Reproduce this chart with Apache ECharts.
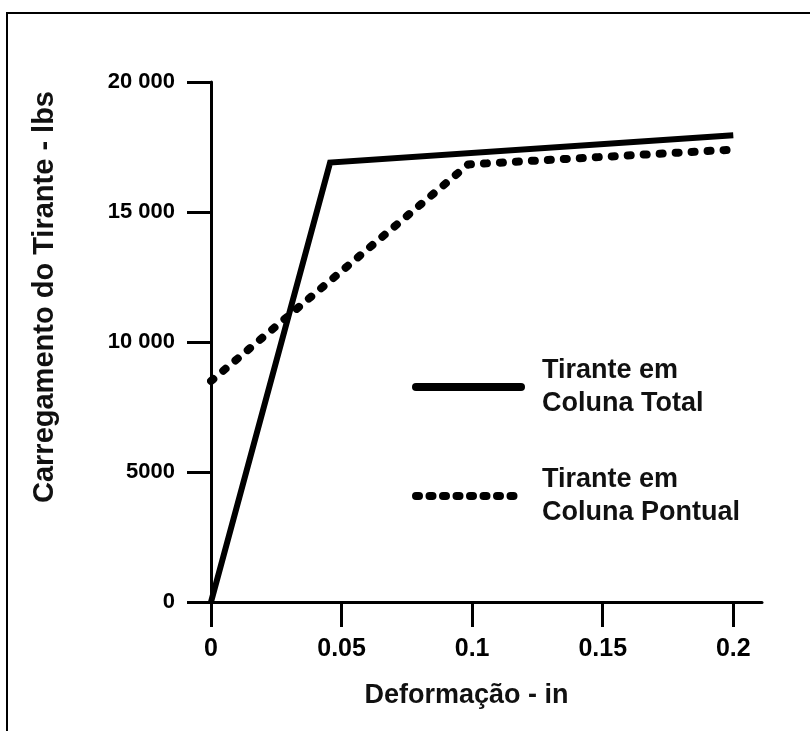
<!DOCTYPE html>
<html><head><meta charset="utf-8">
<script src="https://cdn.jsdelivr.net/npm/echarts@6/dist/echarts.min.js"></script>
<style>html,body{margin:0;padding:0;background:#fff}#c{width:810px;height:731px}</style>
</head><body><div id="c"></div>
<script>
// ---- data ----
const xTicks = [0, 0.05, 0.1, 0.15, 0.2];
const xTickLabels = ['0', '0.05', '0.1', '0.15', '0.2'];
const yTicks = [0, 5000, 10000, 15000, 20000];
const yTickLabels = ['0', '5000', '10 000', '15 000', '20 000'];
const seriesNames = ['Tirante em\nColuna Total', 'Tirante em\nColuna Pontual'];
const totalX = [0, 0.0456, 0.2];
const totalY = [0, 16900, 17950];
const pontualX = [0, 0.0985, 0.2];
const pontualY = [8500, 16830, 17400];
const xTitle = 'Deformação - in';
const yTitle = 'Carregamento do Tirante - lbs';

const FONT = "'Liberation Sans', Arial, sans-serif";
const INK = '#111';
const pairs = (xs, ys) => xs.map((x, i) => [x, ys[i]]);

const chart = echarts.init(document.getElementById('c'), null, {renderer: 'canvas'});
chart.setOption({
  animation: false,
  backgroundColor: '#fff',
  color: ['#000', '#000'],
  graphic: [{
    type: 'rect', silent: true, z: 0,
    shape: {x: 7, y: 13, width: 1000, height: 1000},
    style: {fill: 'none', stroke: '#000', lineWidth: 2}
  }],
  grid: {left: 211, top: 82, right: 48, bottom: 129, outerBoundsMode: 'none', containLabel: false},
  xAxis: {
    type: 'value', min: 0, max: 0.211,
    name: xTitle, nameLocation: 'middle', nameGap: 80,
    nameTextStyle: {fontFamily: FONT, fontWeight: 'bold', fontSize: 27, color: INK, padding: [0, 40, 0, 0]},
    axisLine: {show: true, onZero: false, lineStyle: {color: '#000', width: 3}},
    axisTick: {show: true, customValues: xTicks, length: 25, lineStyle: {color: '#000', width: 3}},
    axisLabel: {
      customValues: xTicks, margin: 35,
      fontFamily: FONT, fontWeight: 'bold', fontSize: 25, color: '#000',
      formatter: v => { const i = xTicks.findIndex(t => Math.abs(t - v) < 1e-9); return i >= 0 ? xTickLabels[i] : ''; }
    },
    splitLine: {show: false}
  },
  yAxis: {
    type: 'value', min: 0, max: 20000, interval: 5000,
    name: yTitle, nameLocation: 'middle', nameGap: 152, nameRotate: 90,
    nameTextStyle: {fontFamily: FONT, fontWeight: 'bold', fontSize: 29, color: INK, padding: [0, 0, 0, 90]},
    axisLine: {show: true, onZero: false, lineStyle: {color: '#000', width: 3}},
    axisTick: {show: true, length: 24, lineStyle: {color: '#000', width: 3}},
    axisLabel: {
      margin: 36, fontFamily: FONT, fontWeight: 'bold', fontSize: 22, color: '#000',
      padding: [0, 0, 16, 0],
      formatter: v => { const i = yTicks.indexOf(v); return i >= 0 ? yTickLabels[i] : ''; }
    },
    splitLine: {show: false}
  },
  legend: {
    orient: 'vertical', left: 412, top: 354, padding: 0, itemGap: 43,
    itemWidth: 105, itemHeight: 8,
    itemStyle: {color: '#000', opacity: 0},
    textStyle: {fontFamily: FONT, fontWeight: 'bold', fontSize: 27, lineHeight: 33, color: INK, padding: [0, 0, 0, 16]},
    data: [
      {name: seriesNames[0], lineStyle: {width: 8, type: 'solid', color: '#000', cap: 'round'}},
      {name: seriesNames[1], lineStyle: {width: 8, type: [3, 10.5], color: '#000', cap: 'round'}}
    ]
  },
  series: [
    {
      name: seriesNames[0], type: 'line', data: pairs(totalX, totalY),
      symbol: 'none', z: 3, itemStyle: {color: '#000'},
      lineStyle: {color: '#000', width: 6, join: 'miter'}
    },
    {
      name: seriesNames[1], type: 'line', data: pairs(pontualX, pontualY),
      symbol: 'none', z: 4, itemStyle: {color: '#000'},
      lineStyle: {color: '#000', width: 8, type: [3, 13], cap: 'round', join: 'round'}
    }
  ]
});
</script></body></html>
